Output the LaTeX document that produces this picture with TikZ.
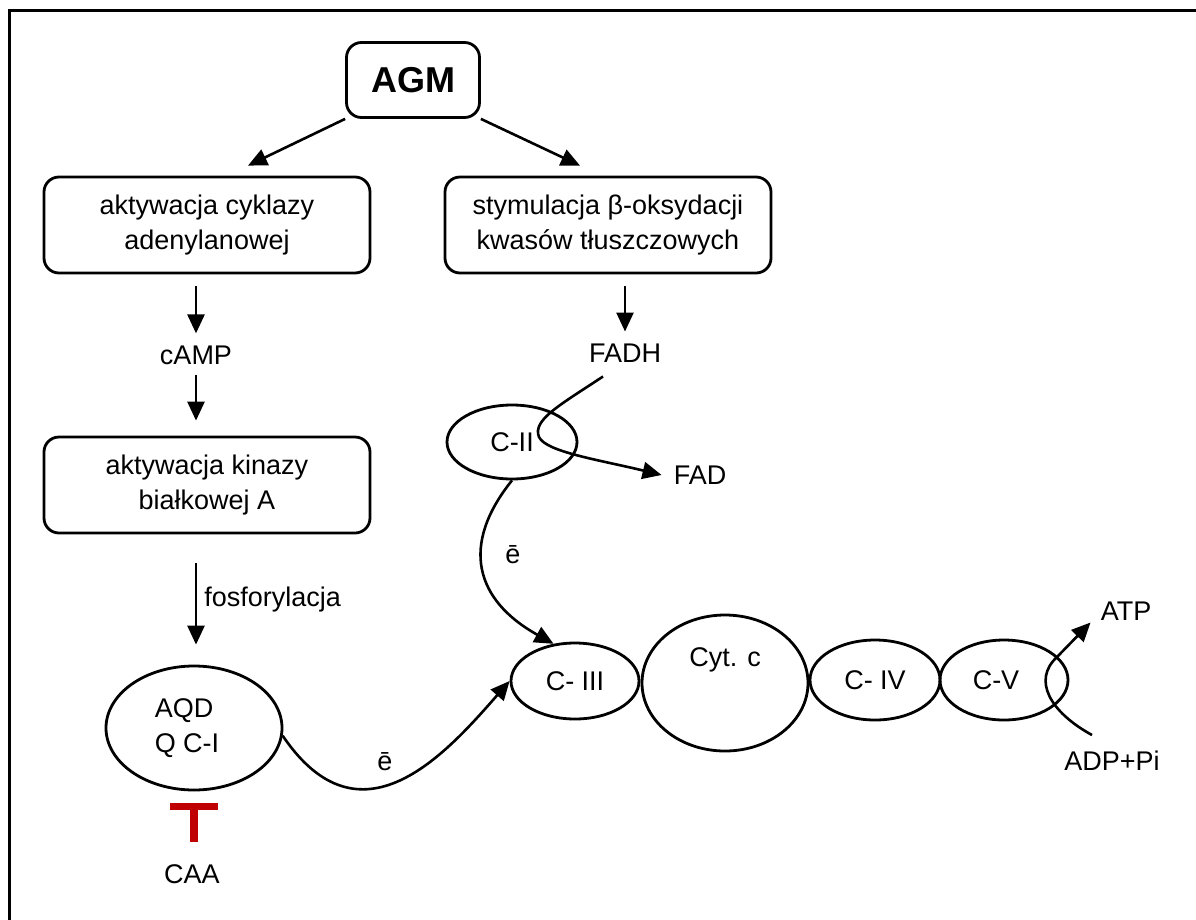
\documentclass[tikz,border=0pt]{standalone}
\usepackage{fontspec}
\setmainfont{Liberation Sans}
\usetikzlibrary{positioning,arrows.meta,shapes.geometric}
\definecolor{tred}{RGB}{192,0,0}

\begin{document}
\begin{tikzpicture}[x=1pt,y=-1pt,every node/.style={font=\fontsize{27}{35}\selectfont},box/.style={draw,line width=2.8pt,rounded corners=15pt,align=center,minimum width=326pt,minimum height=96pt,inner sep=0pt},ell/.style={draw,ellipse,line width=2.8pt,inner sep=0pt,align=center},lbl/.style={inner sep=2pt},a/.style={line width=2.6pt,-{Triangle[length=19pt,width=17pt]}},inh/.style={draw=tred,line width=8pt}]
\useasboundingbox (0,0) rectangle (1196,919);
\draw[line width=3pt] (9,940) -- (9,10) -- (1220,10);
% left branch
\node[box,minimum width=133pt,minimum height=75pt,font=\fontsize{36}{40}\selectfont\bfseries] (agm) at (413,80) {AGM};
\node[box] (cykl) at (207,225) {aktywacja cyklazy\\adenylanowej};
\node[lbl] (camp) at (196,355) {cAMP};
\node[box] (kin) at (207,485) {aktywacja kinazy\\białkowej A};
\node[ell,align=left,minimum width=176pt,minimum height=124pt] (aqd) at (194,728) {AQD\\Q C-I\hspace*{14pt}};
\node[lbl] (caa) at (192,874) {CAA};
% right branch
\node[box] (beta) at (608,225) {stymulacja β-oksydacji\\kwasów tłuszczowych};
\node[lbl] (fadh) at (625,353) {FADH};
\node[ell,minimum width=130pt,minimum height=74pt] (c2) at (512,442) {C-II};
\node[lbl] (fad) at (700,475) {FAD};
% chain
\node[ell,minimum width=128pt,minimum height=76pt] (c3) at (575,681) {C- III};
\node[ell,minimum width=166pt,minimum height=136pt] (cytc) at (725,683) {};
\node[lbl] (cytctxt) at (725,660) {Cyt. c};
\node[ell,minimum width=130pt,minimum height=80pt] (c4) at (875,680) {C- IV};
\node[ell,minimum width=128pt,minimum height=80pt] (c5) at (1004,680) {C-V\hspace*{16pt}};
\node[lbl] (atp) at (1126,611) {ATP};
\node[lbl] (adp) at (1112,761) {ADP+Pi};
\node[lbl] (e1) at (385,762) {ē};
\node[lbl] (e2) at (513,555) {ē};
% arrows
\draw[a] (agm.south west) -- ([xshift=41pt,yshift=10pt]cykl.north);
\draw[a] (agm.south east) -- ([xshift=-28pt,yshift=10pt]beta.north);
\foreach \s/\t in {cykl/camp,beta/fadh}\draw[a,shorten <=12pt,shorten >=10pt](\s.south -| \t)--(\t.north);
\draw[a,shorten <=8pt,shorten >=15pt] (camp.south) -- (camp |- kin.north);
\draw[a,shorten <=29pt,shorten >=20pt] (kin.south -| camp) -- node[right=7pt,inner sep=0pt]{fosforylacja} (aqd.north -| camp);
\draw[a] ([xshift=-22pt,yshift=-12pt]fadh.south) .. controls (560,405) and (532,420) .. (539,437) .. controls (546,452) and (600,460) .. ([xshift=-10pt]fad.west);
\draw[a] (c2.south) .. controls (460,545) and (475,600) .. (c3.120);
\draw[a] (aqd.-5) .. controls (360,850) and (445,755) .. (c3.west);
\draw[a] ([xshift=-20pt,yshift=14pt]adp.north) .. controls (1050,712) and (1032,680) .. (1057,657) -- ([xshift=-8pt]atp.south west);
% inhibition
\coordinate (tbar) at ([yshift=-15pt]aqd.south);
\draw[inh] (tbar) -- ([yshift=20pt]tbar |- caa.north);
\draw[inh,line width=7pt] ([xshift=-24pt]tbar) -- ([xshift=24pt]tbar);
\end{tikzpicture}
\end{document}
